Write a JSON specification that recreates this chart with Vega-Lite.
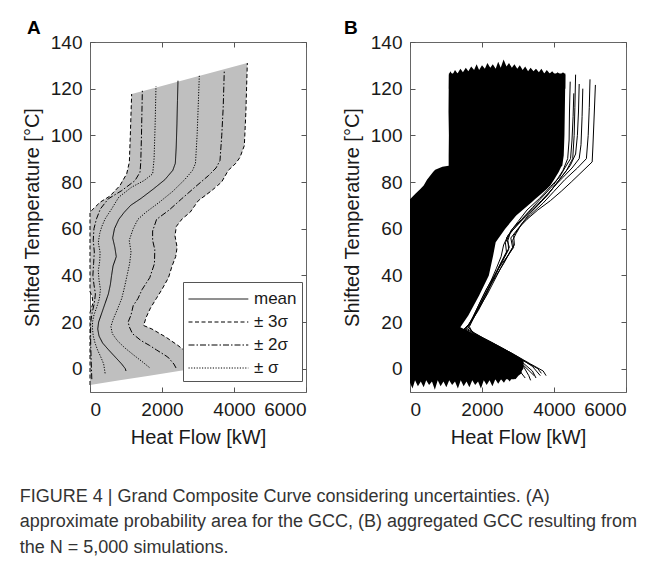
{
  "$schema": "https://vega.github.io/schema/vega-lite/v6.json",
  "background": "white",
  "padding": {"left": 19, "top": 18, "right": 5, "bottom": 5},
  "bounds": "flush",
  "spacing": 104,
  "config": {
    "font": "Liberation Sans",
    "view": {"stroke": "#666666", "strokeWidth": 1},
    "axis": {"labelFont": "Liberation Sans", "labelFontSize": 19, "labelColor": "#1a1a1a", "titleFont": "Liberation Sans", "titleFontSize": 20, "titleFontWeight": "normal", "titleColor": "#1a1a1a", "grid": false, "domain": false, "tickColor": "#555555", "tickSize": -5, "labelPadding": 13}
  },
  "title": {
    "text": ["FIGURE 4 | Grand Composite Curve considering uncertainties. (A)", "approximate probability area for the GCC, (B) aggregated GCC resulting from", "the N = 5,000 simulations."],
    "orient": "bottom", "anchor": "start", "fontSize": 18, "fontWeight": "normal", "color": "#333333", "lineHeight": 25.5, "offset": 40, "dx": -2, "font": "Liberation Sans"
  },
  "datasets": {
    "areaA": [
      {"T": -7, "lo": 0, "hi": 0}, {"T": -5, "lo": 0, "hi": 823}, {"T": -3, "lo": 0, "hi": 1647}, {"T": -1, "lo": 0, "hi": 2470}, {"T": 0, "lo": 0, "hi": 2882}, {"T": 0.9, "lo": 0, "hi": 3240}, {"T": 3, "lo": 0, "hi": 3050}, {"T": 5, "lo": 0, "hi": 2870}, {"T": 7.8, "lo": 0, "hi": 2620}, {"T": 10, "lo": 0, "hi": 2440}, {"T": 13.6, "lo": 0, "hi": 2100}, {"T": 17, "lo": 0, "hi": 1720}, {"T": 18.5, "lo": 0, "hi": 1490}, {"T": 22, "lo": 0, "hi": 1560}, {"T": 24, "lo": 0, "hi": 1620}, {"T": 26, "lo": 40, "hi": 1680}, {"T": 28, "lo": 80, "hi": 1760}, {"T": 30, "lo": 70, "hi": 1840}, {"T": 31, "lo": 60, "hi": 1880}, {"T": 33, "lo": 0, "hi": 1960}, {"T": 34, "lo": 0, "hi": 2000}, {"T": 39, "lo": 0, "hi": 2180}, {"T": 44, "lo": 0, "hi": 2280}, {"T": 48, "lo": 0, "hi": 2380}, {"T": 52, "lo": 0, "hi": 2420}, {"T": 57, "lo": 0, "hi": 2360}, {"T": 61, "lo": 0, "hi": 2400}, {"T": 64.2, "lo": 0, "hi": 2560}, {"T": 67, "lo": 0, "hi": 2780}, {"T": 67.8, "lo": 46, "hi": 2825}, {"T": 71.3, "lo": 278, "hi": 2960}, {"T": 72, "lo": 330, "hi": 3009}, {"T": 74, "lo": 556, "hi": 3200}, {"T": 76.3, "lo": 690, "hi": 3380}, {"T": 78.5, "lo": 833, "hi": 3520}, {"T": 80, "lo": 870, "hi": 3657}, {"T": 83.5, "lo": 1019, "hi": 3790}, {"T": 85, "lo": 1040, "hi": 3842}, {"T": 88, "lo": 1090, "hi": 4050}, {"T": 88.5, "lo": 1093, "hi": 4070}, {"T": 90.6, "lo": 1100, "hi": 4167}, {"T": 95.6, "lo": 1110, "hi": 4287}, {"T": 100, "lo": 1120, "hi": 4297}, {"T": 110, "lo": 1140, "hi": 4330}, {"T": 117.7, "lo": 1157, "hi": 4345}, {"T": 120, "lo": 1713, "hi": 4350}, {"T": 125, "lo": 2921, "hi": 4360}, {"T": 128, "lo": 3646, "hi": 4365}, {"T": 131, "lo": 4370, "hi": 4370}
    ],
    "linesA": [
      {"id": "m", "band": "mean", "T": -1, "q": 1000}, {"id": "m", "band": "mean", "T": 0, "q": 980}, {"id": "m", "band": "mean", "T": 2, "q": 880}, {"id": "m", "band": "mean", "T": 5, "q": 700}, {"id": "m", "band": "mean", "T": 8, "q": 520}, {"id": "m", "band": "mean", "T": 11, "q": 350}, {"id": "m", "band": "mean", "T": 14, "q": 250}, {"id": "m", "band": "mean", "T": 17, "q": 215}, {"id": "m", "band": "mean", "T": 20, "q": 240}, {"id": "m", "band": "mean", "T": 24, "q": 330}, {"id": "m", "band": "mean", "T": 28, "q": 420}, {"id": "m", "band": "mean", "T": 32, "q": 510}, {"id": "m", "band": "mean", "T": 36, "q": 565}, {"id": "m", "band": "mean", "T": 40, "q": 600}, {"id": "m", "band": "mean", "T": 44, "q": 640}, {"id": "m", "band": "mean", "T": 48, "q": 730}, {"id": "m", "band": "mean", "T": 52, "q": 690}, {"id": "m", "band": "mean", "T": 56, "q": 630}, {"id": "m", "band": "mean", "T": 60, "q": 680}, {"id": "m", "band": "mean", "T": 64, "q": 800}, {"id": "m", "band": "mean", "T": 67, "q": 950}, {"id": "m", "band": "mean", "T": 70, "q": 1130}, {"id": "m", "band": "mean", "T": 73, "q": 1420}, {"id": "m", "band": "mean", "T": 77, "q": 1760}, {"id": "m", "band": "mean", "T": 81, "q": 2080}, {"id": "m", "band": "mean", "T": 85, "q": 2300}, {"id": "m", "band": "mean", "T": 88, "q": 2370}, {"id": "m", "band": "mean", "T": 95, "q": 2395}, {"id": "m", "band": "mean", "T": 105, "q": 2415}, {"id": "m", "band": "mean", "T": 115, "q": 2430}, {"id": "m", "band": "mean", "T": 123.4, "q": 2444},
      {"id": "p1", "band": "± σ", "T": 0.5, "q": 1650}, {"id": "p1", "band": "± σ", "T": 3, "q": 1450}, {"id": "p1", "band": "± σ", "T": 6, "q": 1200}, {"id": "p1", "band": "± σ", "T": 9, "q": 960}, {"id": "p1", "band": "± σ", "T": 12, "q": 760}, {"id": "p1", "band": "± σ", "T": 15, "q": 620}, {"id": "p1", "band": "± σ", "T": 18, "q": 580}, {"id": "p1", "band": "± σ", "T": 21, "q": 640}, {"id": "p1", "band": "± σ", "T": 25, "q": 750}, {"id": "p1", "band": "± σ", "T": 30, "q": 880}, {"id": "p1", "band": "± σ", "T": 35, "q": 960}, {"id": "p1", "band": "± σ", "T": 40, "q": 1030}, {"id": "p1", "band": "± σ", "T": 45, "q": 1100}, {"id": "p1", "band": "± σ", "T": 50, "q": 1140}, {"id": "p1", "band": "± σ", "T": 55, "q": 1090}, {"id": "p1", "band": "± σ", "T": 60, "q": 1200}, {"id": "p1", "band": "± σ", "T": 64, "q": 1330}, {"id": "p1", "band": "± σ", "T": 67, "q": 1550}, {"id": "p1", "band": "± σ", "T": 71, "q": 1900}, {"id": "p1", "band": "± σ", "T": 76, "q": 2300}, {"id": "p1", "band": "± σ", "T": 81, "q": 2630}, {"id": "p1", "band": "± σ", "T": 85, "q": 2850}, {"id": "p1", "band": "± σ", "T": 88, "q": 2930}, {"id": "p1", "band": "± σ", "T": 100, "q": 2975}, {"id": "p1", "band": "± σ", "T": 112, "q": 3005}, {"id": "p1", "band": "± σ", "T": 125.8, "q": 3037},
      {"id": "n1", "band": "± σ", "T": -2, "q": 420}, {"id": "n1", "band": "± σ", "T": 2, "q": 380}, {"id": "n1", "band": "± σ", "T": 5, "q": 300}, {"id": "n1", "band": "± σ", "T": 8, "q": 210}, {"id": "n1", "band": "± σ", "T": 11, "q": 140}, {"id": "n1", "band": "± σ", "T": 14, "q": 90}, {"id": "n1", "band": "± σ", "T": 17, "q": 70}, {"id": "n1", "band": "± σ", "T": 20, "q": 70}, {"id": "n1", "band": "± σ", "T": 23, "q": 110}, {"id": "n1", "band": "± σ", "T": 26, "q": 180}, {"id": "n1", "band": "± σ", "T": 30, "q": 260}, {"id": "n1", "band": "± σ", "T": 34, "q": 290}, {"id": "n1", "band": "± σ", "T": 38, "q": 250}, {"id": "n1", "band": "± σ", "T": 42, "q": 230}, {"id": "n1", "band": "± σ", "T": 46, "q": 270}, {"id": "n1", "band": "± σ", "T": 50, "q": 280}, {"id": "n1", "band": "± σ", "T": 54, "q": 230}, {"id": "n1", "band": "± σ", "T": 58, "q": 270}, {"id": "n1", "band": "± σ", "T": 61, "q": 330}, {"id": "n1", "band": "± σ", "T": 64.2, "q": 420}, {"id": "n1", "band": "± σ", "T": 68.5, "q": 602}, {"id": "n1", "band": "± σ", "T": 73.5, "q": 800}, {"id": "n1", "band": "± σ", "T": 77.8, "q": 1157}, {"id": "n1", "band": "± σ", "T": 80.6, "q": 1500}, {"id": "n1", "band": "± σ", "T": 83.5, "q": 1741}, {"id": "n1", "band": "± σ", "T": 90, "q": 1780}, {"id": "n1", "band": "± σ", "T": 105, "q": 1810}, {"id": "n1", "band": "± σ", "T": 121, "q": 1833},
      {"id": "p2", "band": "± 2σ", "T": 0.3, "q": 2390}, {"id": "p2", "band": "± 2σ", "T": 2, "q": 2330}, {"id": "p2", "band": "± 2σ", "T": 5, "q": 2160}, {"id": "p2", "band": "± 2σ", "T": 8, "q": 1850}, {"id": "p2", "band": "± 2σ", "T": 10, "q": 1650}, {"id": "p2", "band": "± 2σ", "T": 12, "q": 1420}, {"id": "p2", "band": "± 2σ", "T": 15, "q": 1180}, {"id": "p2", "band": "± 2σ", "T": 18, "q": 1090}, {"id": "p2", "band": "± 2σ", "T": 20, "q": 1060}, {"id": "p2", "band": "± 2σ", "T": 23, "q": 1140}, {"id": "p2", "band": "± 2σ", "T": 27, "q": 1200}, {"id": "p2", "band": "± 2σ", "T": 30, "q": 1330}, {"id": "p2", "band": "± 2σ", "T": 34, "q": 1450}, {"id": "p2", "band": "± 2σ", "T": 39, "q": 1660}, {"id": "p2", "band": "± 2σ", "T": 45, "q": 1790}, {"id": "p2", "band": "± 2σ", "T": 51, "q": 1800}, {"id": "p2", "band": "± 2σ", "T": 55, "q": 1740}, {"id": "p2", "band": "± 2σ", "T": 59, "q": 1740}, {"id": "p2", "band": "± 2σ", "T": 64, "q": 1850}, {"id": "p2", "band": "± 2σ", "T": 68, "q": 2200}, {"id": "p2", "band": "± 2σ", "T": 72.8, "q": 2546}, {"id": "p2", "band": "± 2σ", "T": 77.8, "q": 2917}, {"id": "p2", "band": "± 2σ", "T": 82.7, "q": 3287}, {"id": "p2", "band": "± 2σ", "T": 86, "q": 3500}, {"id": "p2", "band": "± 2σ", "T": 89.2, "q": 3611}, {"id": "p2", "band": "± 2σ", "T": 100, "q": 3660}, {"id": "p2", "band": "± 2σ", "T": 112, "q": 3700}, {"id": "p2", "band": "± 2σ", "T": 128.1, "q": 3731},
      {"id": "n2", "band": "± 2σ", "T": -4.5, "q": 50}, {"id": "n2", "band": "± 2σ", "T": 0, "q": 40}, {"id": "n2", "band": "± 2σ", "T": 5, "q": 30}, {"id": "n2", "band": "± 2σ", "T": 10, "q": 20}, {"id": "n2", "band": "± 2σ", "T": 15, "q": 15}, {"id": "n2", "band": "± 2σ", "T": 20, "q": 20}, {"id": "n2", "band": "± 2σ", "T": 24, "q": 60}, {"id": "n2", "band": "± 2σ", "T": 28, "q": 120}, {"id": "n2", "band": "± 2σ", "T": 32, "q": 150}, {"id": "n2", "band": "± 2σ", "T": 36, "q": 110}, {"id": "n2", "band": "± 2σ", "T": 40, "q": 80}, {"id": "n2", "band": "± 2σ", "T": 45, "q": 100}, {"id": "n2", "band": "± 2σ", "T": 50, "q": 120}, {"id": "n2", "band": "± 2σ", "T": 55, "q": 90}, {"id": "n2", "band": "± 2σ", "T": 60, "q": 110}, {"id": "n2", "band": "± 2σ", "T": 64.2, "q": 180}, {"id": "n2", "band": "± 2σ", "T": 68.5, "q": 290}, {"id": "n2", "band": "± 2σ", "T": 72.8, "q": 509}, {"id": "n2", "band": "± 2σ", "T": 76.3, "q": 880}, {"id": "n2", "band": "± 2σ", "T": 80.6, "q": 1250}, {"id": "n2", "band": "± 2σ", "T": 84.2, "q": 1389}, {"id": "n2", "band": "± 2σ", "T": 88.4, "q": 1410}, {"id": "n2", "band": "± 2σ", "T": 100, "q": 1430}, {"id": "n2", "band": "± 2σ", "T": 119.1, "q": 1454},
      {"id": "p3", "band": "± 3σ", "T": 0.9, "q": 3240}, {"id": "p3", "band": "± 3σ", "T": 3, "q": 3050}, {"id": "p3", "band": "± 3σ", "T": 5, "q": 2870}, {"id": "p3", "band": "± 3σ", "T": 7.8, "q": 2620}, {"id": "p3", "band": "± 3σ", "T": 10, "q": 2440}, {"id": "p3", "band": "± 3σ", "T": 13.6, "q": 2100}, {"id": "p3", "band": "± 3σ", "T": 17, "q": 1720}, {"id": "p3", "band": "± 3σ", "T": 18.5, "q": 1490}, {"id": "p3", "band": "± 3σ", "T": 22, "q": 1560}, {"id": "p3", "band": "± 3σ", "T": 26, "q": 1680}, {"id": "p3", "band": "± 3σ", "T": 30, "q": 1840}, {"id": "p3", "band": "± 3σ", "T": 34, "q": 2000}, {"id": "p3", "band": "± 3σ", "T": 39, "q": 2180}, {"id": "p3", "band": "± 3σ", "T": 44, "q": 2280}, {"id": "p3", "band": "± 3σ", "T": 48, "q": 2380}, {"id": "p3", "band": "± 3σ", "T": 52, "q": 2420}, {"id": "p3", "band": "± 3σ", "T": 57, "q": 2360}, {"id": "p3", "band": "± 3σ", "T": 61, "q": 2400}, {"id": "p3", "band": "± 3σ", "T": 64.2, "q": 2560}, {"id": "p3", "band": "± 3σ", "T": 67, "q": 2780}, {"id": "p3", "band": "± 3σ", "T": 72, "q": 3009}, {"id": "p3", "band": "± 3σ", "T": 76.3, "q": 3380}, {"id": "p3", "band": "± 3σ", "T": 80, "q": 3657}, {"id": "p3", "band": "± 3σ", "T": 85, "q": 3842}, {"id": "p3", "band": "± 3σ", "T": 88, "q": 4050}, {"id": "p3", "band": "± 3σ", "T": 90.6, "q": 4167}, {"id": "p3", "band": "± 3σ", "T": 95.6, "q": 4287}, {"id": "p3", "band": "± 3σ", "T": 110, "q": 4330}, {"id": "p3", "band": "± 3σ", "T": 131, "q": 4370},
      {"id": "n3", "band": "± 3σ", "T": -7, "q": 0}, {"id": "n3", "band": "± 3σ", "T": 24, "q": 0}, {"id": "n3", "band": "± 3σ", "T": 26, "q": 40}, {"id": "n3", "band": "± 3σ", "T": 28, "q": 80}, {"id": "n3", "band": "± 3σ", "T": 31, "q": 60}, {"id": "n3", "band": "± 3σ", "T": 33, "q": 0}, {"id": "n3", "band": "± 3σ", "T": 67, "q": 0}, {"id": "n3", "band": "± 3σ", "T": 67.8, "q": 46}, {"id": "n3", "band": "± 3σ", "T": 71.3, "q": 278}, {"id": "n3", "band": "± 3σ", "T": 74, "q": 556}, {"id": "n3", "band": "± 3σ", "T": 78.5, "q": 833}, {"id": "n3", "band": "± 3σ", "T": 83.5, "q": 1019}, {"id": "n3", "band": "± 3σ", "T": 88.5, "q": 1093}, {"id": "n3", "band": "± 3σ", "T": 100, "q": 1120}, {"id": "n3", "band": "± 3σ", "T": 117.7, "q": 1157}
    ],
    "bodyB": [
      {"T": -4.5, "lo": 0, "hi": 2900}, {"T": -2, "lo": 0, "hi": 3050}, {"T": 0, "lo": 0, "hi": 3150}, {"T": 3.5, "lo": 0, "hi": 3158}, {"T": 7.1, "lo": 0, "hi": 2787}, {"T": 11.4, "lo": 0, "hi": 2231}, {"T": 15.7, "lo": 0, "hi": 1676}, {"T": 17.8, "lo": 0, "hi": 1398}, {"T": 22.8, "lo": 0, "hi": 1620}, {"T": 31.4, "lo": 0, "hi": 1920}, {"T": 39.9, "lo": 0, "hi": 2190}, {"T": 48.5, "lo": 0, "hi": 2310}, {"T": 54.2, "lo": 0, "hi": 2380}, {"T": 59.9, "lo": 0, "hi": 2640}, {"T": 65.6, "lo": 0, "hi": 2950}, {"T": 71.3, "lo": 0, "hi": 3380}, {"T": 72.6, "lo": 0, "hi": 3470}, {"T": 75, "lo": 150, "hi": 3650}, {"T": 77, "lo": 287, "hi": 3800}, {"T": 78.5, "lo": 380, "hi": 3898}, {"T": 81, "lo": 472, "hi": 4000}, {"T": 84.3, "lo": 640, "hi": 4130}, {"T": 85.3, "lo": 700, "hi": 4160}, {"T": 86.5, "lo": 900, "hi": 4200}, {"T": 87, "lo": 1074, "hi": 4230}, {"T": 91.4, "lo": 1074, "hi": 4270}, {"T": 100, "lo": 1080, "hi": 4290}, {"T": 110, "lo": 1070, "hi": 4300}, {"T": 120, "lo": 1075, "hi": 4310}, {"T": 126.5, "lo": 1080, "hi": 4315}
    ],
    "topB": [
      {"q": 1080, "T": 126}, {"q": 1120, "T": 127.5}, {"q": 1180, "T": 126}, {"q": 1250, "T": 128}, {"q": 1320, "T": 126.5}, {"q": 1400, "T": 128.5}, {"q": 1470, "T": 127}, {"q": 1550, "T": 129}, {"q": 1620, "T": 127.5}, {"q": 1700, "T": 129.5}, {"q": 1780, "T": 128}, {"q": 1850, "T": 130.5}, {"q": 1920, "T": 128}, {"q": 2000, "T": 130}, {"q": 2080, "T": 128.5}, {"q": 2150, "T": 131}, {"q": 2230, "T": 129}, {"q": 2300, "T": 130.5}, {"q": 2380, "T": 128.5}, {"q": 2450, "T": 131.5}, {"q": 2520, "T": 129}, {"q": 2600, "T": 132.5}, {"q": 2680, "T": 129.5}, {"q": 2750, "T": 131}, {"q": 2830, "T": 129}, {"q": 2900, "T": 130.5}, {"q": 2980, "T": 128.5}, {"q": 3050, "T": 130}, {"q": 3130, "T": 128}, {"q": 3200, "T": 129.5}, {"q": 3280, "T": 127.5}, {"q": 3350, "T": 129}, {"q": 3430, "T": 127.5}, {"q": 3500, "T": 128.5}, {"q": 3580, "T": 127}, {"q": 3650, "T": 128.5}, {"q": 3730, "T": 126.5}, {"q": 3800, "T": 128}, {"q": 3880, "T": 126.5}, {"q": 3950, "T": 127.5}, {"q": 4030, "T": 126}, {"q": 4100, "T": 127}, {"q": 4180, "T": 126}, {"q": 4250, "T": 127}, {"q": 4315, "T": 126}
    ],
    "botB": [
      {"q": 0, "T": -6}, {"q": 70, "T": -8.5}, {"q": 140, "T": -5}, {"q": 220, "T": -7.5}, {"q": 300, "T": -5.5}, {"q": 380, "T": -8}, {"q": 450, "T": -5}, {"q": 530, "T": -7}, {"q": 610, "T": -5.5}, {"q": 690, "T": -9}, {"q": 770, "T": -5}, {"q": 850, "T": -7.5}, {"q": 930, "T": -5.5}, {"q": 1010, "T": -8}, {"q": 1090, "T": -5}, {"q": 1170, "T": -7}, {"q": 1250, "T": -5.5}, {"q": 1330, "T": -8.5}, {"q": 1410, "T": -5}, {"q": 1490, "T": -7.5}, {"q": 1570, "T": -5.5}, {"q": 1650, "T": -8}, {"q": 1730, "T": -5}, {"q": 1810, "T": -7}, {"q": 1890, "T": -5.5}, {"q": 1970, "T": -8.5}, {"q": 2050, "T": -5}, {"q": 2130, "T": -7}, {"q": 2210, "T": -5}, {"q": 2290, "T": -7.5}, {"q": 2370, "T": -4.5}, {"q": 2450, "T": -6.5}, {"q": 2530, "T": -4.5}, {"q": 2610, "T": -6}, {"q": 2690, "T": -4}, {"q": 2770, "T": -5.5}, {"q": 2850, "T": -3.5}, {"q": 2930, "T": -4.5}, {"q": 3010, "T": -3}, {"q": 3100, "T": -2}
    ],
    "outB": [
      {"id": 1, "T": 121.6, "q": 5150}, {"id": 1, "T": 110, "q": 5120}, {"id": 1, "T": 95, "q": 5080}, {"id": 1, "T": 88.6, "q": 5060}, {"id": 1, "T": 84, "q": 4750}, {"id": 1, "T": 80, "q": 4480}, {"id": 1, "T": 76, "q": 4200}, {"id": 1, "T": 72, "q": 3900}, {"id": 1, "T": 68, "q": 3550}, {"id": 1, "T": 64, "q": 3250}, {"id": 1, "T": 60, "q": 3000}, {"id": 1, "T": 56, "q": 2800}, {"id": 1, "T": 52, "q": 2850}, {"id": 1, "T": 48, "q": 2700}, {"id": 1, "T": 44, "q": 2500}, {"id": 1, "T": 40, "q": 2350}, {"id": 1, "T": 34, "q": 2120}, {"id": 1, "T": 28, "q": 1930}, {"id": 1, "T": 22, "q": 1750}, {"id": 1, "T": 17, "q": 1550}, {"id": 1, "T": 14, "q": 1900}, {"id": 1, "T": 10, "q": 2400}, {"id": 1, "T": 6, "q": 2900}, {"id": 1, "T": 2, "q": 3350}, {"id": 1, "T": -1, "q": 3700}, {"id": 1, "T": -3, "q": 3780},
      {"id": 2, "T": 124, "q": 5000}, {"id": 2, "T": 112, "q": 4980}, {"id": 2, "T": 100, "q": 4950}, {"id": 2, "T": 90, "q": 4900}, {"id": 2, "T": 86, "q": 4650}, {"id": 2, "T": 81, "q": 4300}, {"id": 2, "T": 76, "q": 4000}, {"id": 2, "T": 71, "q": 3700}, {"id": 2, "T": 66, "q": 3350}, {"id": 2, "T": 62, "q": 3100}, {"id": 2, "T": 57, "q": 2880}, {"id": 2, "T": 53, "q": 2900}, {"id": 2, "T": 50, "q": 2780}, {"id": 2, "T": 45, "q": 2600}, {"id": 2, "T": 40, "q": 2400}, {"id": 2, "T": 34, "q": 2170}, {"id": 2, "T": 27, "q": 1940}, {"id": 2, "T": 21, "q": 1720}, {"id": 2, "T": 17, "q": 1600}, {"id": 2, "T": 13, "q": 2050}, {"id": 2, "T": 9, "q": 2550}, {"id": 2, "T": 5, "q": 3000}, {"id": 2, "T": 1, "q": 3400}, {"id": 2, "T": -3, "q": 3620},
      {"id": 3, "T": 122, "q": 4700}, {"id": 3, "T": 110, "q": 4680}, {"id": 3, "T": 100, "q": 4650}, {"id": 3, "T": 92, "q": 4600}, {"id": 3, "T": 87, "q": 4450}, {"id": 3, "T": 82, "q": 4200}, {"id": 3, "T": 77, "q": 3950}, {"id": 3, "T": 72, "q": 3650}, {"id": 3, "T": 67, "q": 3300}, {"id": 3, "T": 62, "q": 3000}, {"id": 3, "T": 58, "q": 2780}, {"id": 3, "T": 54, "q": 2650}, {"id": 3, "T": 50, "q": 2680}, {"id": 3, "T": 46, "q": 2550}, {"id": 3, "T": 42, "q": 2420}, {"id": 3, "T": 36, "q": 2230}, {"id": 3, "T": 30, "q": 2030}, {"id": 3, "T": 24, "q": 1840}, {"id": 3, "T": 18, "q": 1650}, {"id": 3, "T": 15, "q": 1750}, {"id": 3, "T": 11, "q": 2200}, {"id": 3, "T": 7, "q": 2700}, {"id": 3, "T": 3, "q": 3100}, {"id": 3, "T": -1, "q": 3400}, {"id": 3, "T": -4, "q": 3500},
      {"id": 4, "T": 126, "q": 4600}, {"id": 4, "T": 112, "q": 4580}, {"id": 4, "T": 100, "q": 4560}, {"id": 4, "T": 90, "q": 4520}, {"id": 4, "T": 85, "q": 4350}, {"id": 4, "T": 80, "q": 4100}, {"id": 4, "T": 75, "q": 3850}, {"id": 4, "T": 70, "q": 3550}, {"id": 4, "T": 65, "q": 3200}, {"id": 4, "T": 61, "q": 2950}, {"id": 4, "T": 57, "q": 2720}, {"id": 4, "T": 53, "q": 2600}, {"id": 4, "T": 48, "q": 2530}, {"id": 4, "T": 43, "q": 2400}, {"id": 4, "T": 38, "q": 2260}, {"id": 4, "T": 32, "q": 2060}, {"id": 4, "T": 26, "q": 1870}, {"id": 4, "T": 20, "q": 1680}, {"id": 4, "T": 16, "q": 1500}, {"id": 4, "T": 13, "q": 1900}, {"id": 4, "T": 9, "q": 2450}, {"id": 4, "T": 5, "q": 2850}, {"id": 4, "T": 1, "q": 3150}, {"id": 4, "T": -3, "q": 3300}, {"id": 4, "T": -5, "q": 3350},
      {"id": 5, "T": 123, "q": 4450}, {"id": 5, "T": 110, "q": 4430}, {"id": 5, "T": 98, "q": 4420}, {"id": 5, "T": 90, "q": 4380}, {"id": 5, "T": 85, "q": 4250}, {"id": 5, "T": 79, "q": 4000}, {"id": 5, "T": 74, "q": 3700}, {"id": 5, "T": 69, "q": 3400}, {"id": 5, "T": 64, "q": 3100}, {"id": 5, "T": 60, "q": 2850}, {"id": 5, "T": 56, "q": 2680}, {"id": 5, "T": 52, "q": 2760}, {"id": 5, "T": 49, "q": 2650}, {"id": 5, "T": 44, "q": 2480}, {"id": 5, "T": 38, "q": 2300}, {"id": 5, "T": 31, "q": 2100}, {"id": 5, "T": 25, "q": 1900}, {"id": 5, "T": 19, "q": 1650}, {"id": 5, "T": 16, "q": 1450}, {"id": 5, "T": 12, "q": 1850}, {"id": 5, "T": 8, "q": 2300}, {"id": 5, "T": 4, "q": 2700}, {"id": 5, "T": 0, "q": 3000}, {"id": 5, "T": -4, "q": 3200},
      {"id": 6, "T": 118, "q": 4550}, {"id": 6, "T": 108, "q": 4530}, {"id": 6, "T": 98, "q": 4500}, {"id": 6, "T": 90, "q": 4460}, {"id": 6, "T": 86, "q": 4300}, {"id": 6, "T": 82, "q": 4150}, {"id": 6, "T": 78, "q": 3900}, {"id": 6, "T": 73, "q": 3600}, {"id": 6, "T": 68, "q": 3250}, {"id": 6, "T": 63, "q": 3000}, {"id": 6, "T": 59, "q": 2800}, {"id": 6, "T": 55, "q": 2720}, {"id": 6, "T": 51, "q": 2740}, {"id": 6, "T": 47, "q": 2600}, {"id": 6, "T": 41, "q": 2400}, {"id": 6, "T": 35, "q": 2200}, {"id": 6, "T": 29, "q": 2000}, {"id": 6, "T": 23, "q": 1800}, {"id": 6, "T": 18, "q": 1600}, {"id": 6, "T": 15, "q": 1800}, {"id": 6, "T": 11, "q": 2300}, {"id": 6, "T": 7, "q": 2750}, {"id": 6, "T": 3, "q": 3050}, {"id": 6, "T": 0, "q": 3250}, {"id": 6, "T": -3, "q": 3450},
      {"id": 7, "T": 120, "q": 4800}, {"id": 7, "T": 108, "q": 4780}, {"id": 7, "T": 96, "q": 4750}, {"id": 7, "T": 90, "q": 4700}, {"id": 7, "T": 86, "q": 4500}, {"id": 7, "T": 82, "q": 4250}, {"id": 7, "T": 78, "q": 4000}, {"id": 7, "T": 74, "q": 3800}, {"id": 7, "T": 70, "q": 3550}, {"id": 7, "T": 66, "q": 3300}, {"id": 7, "T": 62, "q": 3100}, {"id": 7, "T": 58, "q": 2950}, {"id": 7, "T": 55, "q": 2850}, {"id": 7, "T": 52, "q": 2880}, {"id": 7, "T": 48, "q": 2700}, {"id": 7, "T": 44, "q": 2550}, {"id": 7, "T": 38, "q": 2350}, {"id": 7, "T": 32, "q": 2150}, {"id": 7, "T": 26, "q": 1920}, {"id": 7, "T": 20, "q": 1700}, {"id": 7, "T": 17, "q": 1500}, {"id": 7, "T": 14, "q": 1800}, {"id": 7, "T": 10, "q": 2300}, {"id": 7, "T": 6, "q": 2800}, {"id": 7, "T": 3, "q": 3200}, {"id": 7, "T": 0, "q": 3550}, {"id": 7, "T": -2, "q": 3650}
    ]
  },
  "hconcat": [
    {
      "width": 216, "height": 350,
      "title": {"text": "A", "anchor": "start", "frame": "group", "dx": -63, "fontSize": 19, "fontWeight": "bold", "offset": -5, "color": "black", "font": "Liberation Sans"},
      "resolve": {"axis": {"x": "independent", "y": "independent"}},
      "layer": [
        {
          "data": {"name": "areaA"},
          "mark": {"type": "area", "orient": "horizontal", "color": "#bfbfbf"},
          "encoding": {
            "y": {"field": "T", "type": "quantitative", "scale": {"domain": [-10, 140], "nice": false, "zero": false}, "axis": {"values": [0, 20, 40, 60, 80, 100, 120, 140], "title": "Shifted Temperature [°C]", "titlePadding": 8}},
            "x": {"field": "lo", "type": "quantitative", "scale": {"domain": [0, 6000], "nice": false}, "axis": {"values": [0, 2000, 4000, 6000], "title": "Heat Flow [kW]", "titlePadding": 8, "format": "d"}},
            "x2": {"field": "hi"}
          }
        },
        {
          "data": {"name": "linesA"},
          "mark": {"type": "line", "color": "black", "strokeWidth": 1},
          "encoding": {
            "y": {"field": "T", "type": "quantitative", "axis": {"orient": "right", "values": [0, 20, 40, 60, 80, 100, 120, 140], "labels": false, "title": null}},
            "x": {"field": "q", "type": "quantitative", "axis": {"orient": "top", "values": [0, 2000, 4000, 6000], "labels": false, "title": null}},
            "detail": {"field": "id"},
            "order": {"field": "T", "type": "quantitative"},
            "strokeDash": {
              "field": "band", "type": "nominal",
              "scale": {"domain": ["mean", "± 3σ", "± 2σ", "± σ"], "range": [[1, 0], [4, 2.5], [6, 2, 1.5, 2], [1.2, 1.5]]},
              "legend": {"orient": "none", "legendX": 93, "legendY": 240, "title": null, "symbolType": "M-1,0H4.2", "symbolSize": 529, "symbolStrokeColor": "black", "symbolStrokeWidth": 1, "labelFontSize": 17, "labelFont": "Liberation Sans", "labelColor": "#1a1a1a", "labelOffset": 42, "strokeColor": "#555555", "fillColor": "white", "padding": 5, "rowPadding": 3}
            }
          }
        }
      ]
    },
    {
      "width": 216, "height": 350,
      "title": {"text": "B", "anchor": "start", "frame": "group", "dx": -66, "fontSize": 19, "fontWeight": "bold", "offset": -5, "color": "black", "font": "Liberation Sans"},
      "resolve": {"axis": {"x": "independent", "y": "independent"}},
      "layer": [
        {
          "data": {"name": "bodyB"},
          "mark": {"type": "area", "orient": "horizontal", "color": "black"},
          "encoding": {
            "y": {"field": "T", "type": "quantitative", "scale": {"domain": [-10, 140], "nice": false, "zero": false}, "axis": {"values": [0, 20, 40, 60, 80, 100, 120, 140], "title": "Shifted Temperature [°C]", "titlePadding": 8}},
            "x": {"field": "lo", "type": "quantitative", "scale": {"domain": [0, 6000], "nice": false}, "axis": {"values": [0, 2000, 4000, 6000], "title": "Heat Flow [kW]", "titlePadding": 8, "format": "d"}},
            "x2": {"field": "hi"}
          }
        },
        {
          "data": {"name": "topB"},
          "mark": {"type": "area", "orient": "vertical", "color": "black"},
          "encoding": {
            "x": {"field": "q", "type": "quantitative", "axis": {"orient": "top", "values": [0, 2000, 4000, 6000], "labels": false, "title": null}},
            "y": {"field": "T", "type": "quantitative", "axis": {"orient": "right", "values": [0, 20, 40, 60, 80, 100, 120, 140], "labels": false, "title": null}},
            "y2": {"datum": 120}
          }
        },
        {
          "data": {"name": "botB"},
          "mark": {"type": "area", "orient": "vertical", "color": "black"},
          "encoding": {
            "x": {"field": "q", "type": "quantitative", "axis": null},
            "y": {"field": "T", "type": "quantitative", "axis": null},
            "y2": {"datum": 0}
          }
        },
        {
          "data": {"name": "outB"},
          "mark": {"type": "line", "color": "black", "strokeWidth": 1},
          "encoding": {
            "x": {"field": "q", "type": "quantitative", "axis": null},
            "y": {"field": "T", "type": "quantitative", "axis": null},
            "detail": {"field": "id"},
            "order": {"field": "T", "type": "quantitative"}
          }
        }
      ]
    }
  ]
}
